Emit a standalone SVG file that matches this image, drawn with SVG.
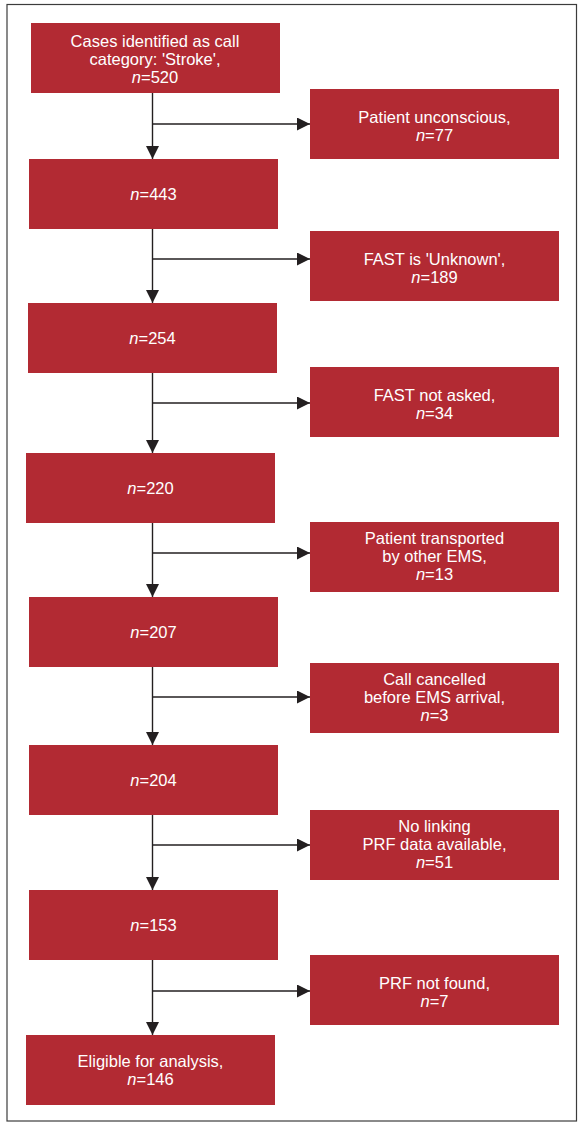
<svg xmlns="http://www.w3.org/2000/svg" width="582" height="1126" viewBox="0 0 582 1126">
<style>
.box{fill:#b22a33}
.t{font-family:"Liberation Sans",Arial,sans-serif;font-size:16.5px;fill:#fff;text-anchor:middle}
.i{font-style:italic}
.c{stroke:#231f20;stroke-width:1.4;fill:none}
</style>
<defs>
<marker id="ah" markerUnits="userSpaceOnUse" markerWidth="13" markerHeight="13" refX="13" refY="6.5" orient="auto">
<path d="M0,0 L13,6.5 L0,13 z" fill="#231f20"/>
</marker>
</defs>
<rect x="7" y="4.5" width="569.5" height="1116.5" fill="#fff" stroke="#3c3c3c" stroke-width="1.2"/>
<g id="connectors">
<path class="c" d="M152.5,93 V159" marker-end="url(#ah)"/>
<path class="c" d="M152.5,124 H310" marker-end="url(#ah)"/>
<path class="c" d="M152.5,229 V303" marker-end="url(#ah)"/>
<path class="c" d="M152.5,259 H310" marker-end="url(#ah)"/>
<path class="c" d="M152.5,373 V453" marker-end="url(#ah)"/>
<path class="c" d="M152.5,403 H310" marker-end="url(#ah)"/>
<path class="c" d="M152.5,522.5 V597" marker-end="url(#ah)"/>
<path class="c" d="M152.5,553 H310" marker-end="url(#ah)"/>
<path class="c" d="M152.5,666.5 V745" marker-end="url(#ah)"/>
<path class="c" d="M152.5,697 H310" marker-end="url(#ah)"/>
<path class="c" d="M152.5,814.5 V890" marker-end="url(#ah)"/>
<path class="c" d="M152.5,845 H310" marker-end="url(#ah)"/>
<path class="c" d="M152.5,959.5 V1035" marker-end="url(#ah)"/>
<path class="c" d="M152.5,991 H310" marker-end="url(#ah)"/>
</g>
<g id="n520">
<rect class="box" x="31" y="23" width="249" height="70"/>
<text class="t" x="155" y="47">Cases identified as call</text>
<text class="t" x="155" y="65">category: 'Stroke',</text>
<text class="t" x="155" y="83"><tspan class="i">n</tspan>=520</text>
</g>
<g id="unconscious">
<rect class="box" x="310" y="89" width="249" height="70"/>
<text class="t" x="434.5" y="123">Patient unconscious,</text>
<text class="t" x="434.5" y="141"><tspan class="i">n</tspan>=77</text>
</g>
<g id="n443">
<rect class="box" x="29" y="159" width="249" height="70"/>
<text class="t" x="153.5" y="200"><tspan class="i">n</tspan>=443</text>
</g>
<g id="unknown">
<rect class="box" x="310" y="231" width="249" height="70"/>
<text class="t" x="434.5" y="265">FAST is 'Unknown',</text>
<text class="t" x="434.5" y="283"><tspan class="i">n</tspan>=189</text>
</g>
<g id="n254">
<rect class="box" x="28" y="303" width="249" height="70"/>
<text class="t" x="152.5" y="344"><tspan class="i">n</tspan>=254</text>
</g>
<g id="notasked">
<rect class="box" x="310" y="367" width="249" height="70"/>
<text class="t" x="434.5" y="401">FAST not asked,</text>
<text class="t" x="434.5" y="419"><tspan class="i">n</tspan>=34</text>
</g>
<g id="n220">
<rect class="box" x="26" y="453" width="249" height="70"/>
<text class="t" x="150.5" y="494"><tspan class="i">n</tspan>=220</text>
</g>
<g id="otherems">
<rect class="box" x="310" y="522" width="249" height="70"/>
<text class="t" x="434.5" y="544">Patient transported</text>
<text class="t" x="434.5" y="562">by other EMS,</text>
<text class="t" x="434.5" y="580"><tspan class="i">n</tspan>=13</text>
</g>
<g id="n207">
<rect class="box" x="29" y="597" width="249" height="70"/>
<text class="t" x="153.5" y="638"><tspan class="i">n</tspan>=207</text>
</g>
<g id="cancelled">
<rect class="box" x="310" y="663" width="249" height="70"/>
<text class="t" x="434.5" y="685">Call cancelled</text>
<text class="t" x="434.5" y="703">before EMS arrival,</text>
<text class="t" x="434.5" y="721"><tspan class="i">n</tspan>=3</text>
</g>
<g id="n204">
<rect class="box" x="29" y="745" width="249" height="70"/>
<text class="t" x="153.5" y="786"><tspan class="i">n</tspan>=204</text>
</g>
<g id="nolinking">
<rect class="box" x="310" y="810" width="249" height="70"/>
<text class="t" x="434.5" y="832">No linking</text>
<text class="t" x="434.5" y="850">PRF data available,</text>
<text class="t" x="434.5" y="868"><tspan class="i">n</tspan>=51</text>
</g>
<g id="n153">
<rect class="box" x="29" y="890" width="249" height="70"/>
<text class="t" x="153.5" y="931"><tspan class="i">n</tspan>=153</text>
</g>
<g id="notfound">
<rect class="box" x="310" y="955" width="249" height="70"/>
<text class="t" x="434.5" y="989">PRF not found,</text>
<text class="t" x="434.5" y="1007"><tspan class="i">n</tspan>=7</text>
</g>
<g id="eligible">
<rect class="box" x="26" y="1035" width="249" height="70"/>
<text class="t" x="150.5" y="1067">Eligible for analysis,</text>
<text class="t" x="150.5" y="1085"><tspan class="i">n</tspan>=146</text>
</g>
</svg>
